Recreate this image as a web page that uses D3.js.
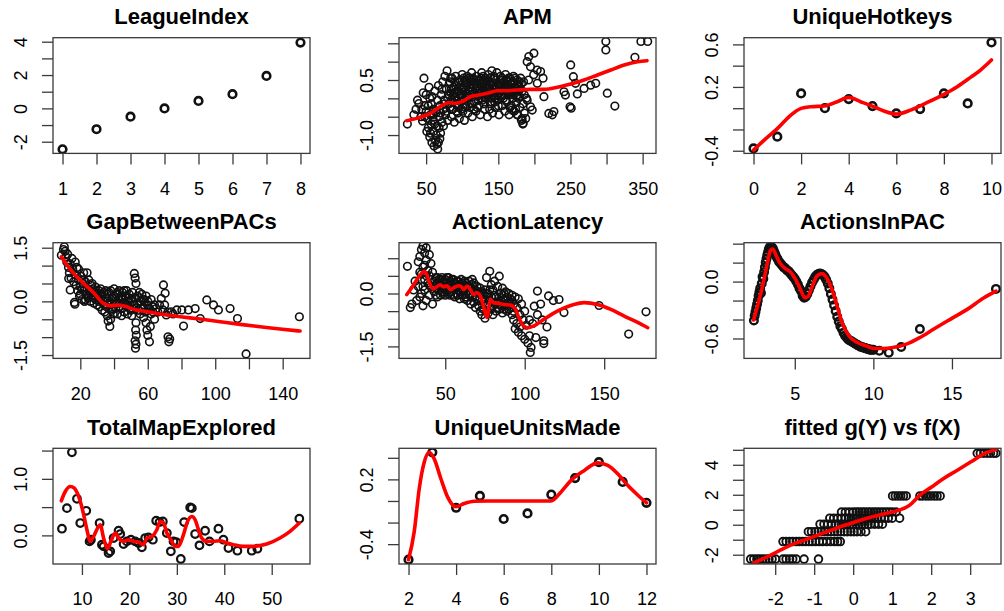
<!DOCTYPE html>
<html>
<head>
<meta charset="utf-8">
<script src="https://cdn.jsdelivr.net/npm/d3@7/dist/d3.min.js"></script>
<style>
body { margin: 0; background: #fff; }
text { font-family: "Liberation Sans", Arial, Helvetica, sans-serif; fill: #000; }
</style>
</head>
<body>
<svg id="chart" width="1004" height="611"></svg>
<script>
// ---- data ----
var titles = ["LeagueIndex", "APM", "UniqueHotkeys", "GapBetweenPACs", "ActionLatency",
	"ActionsInPAC", "TotalMapExplored", "UniqueUnitsMade", "fitted g(Y) vs f(X)"];

var leaguePts = [[1,-2.45],[2,-1.25],[3,-0.5],[4,0.0],[5,0.45],[6,0.85],[7,1.95],[8,3.95]];

var apmPts = [[24,-0.7],[33,-0.45],[36,-0.3],[38,-0.05],[40,-0.14],[43,-0.5],[45,-0.62],[47,0.55],[48,-0.2],[50,-0.35],[50,0.1],
	[52,-0.55],[53,-0.8],[54,0.3],[55,-1.05],[56,-0.45],[57,-0.15],[58,-1.2],[58,0.05],[60,-0.9],[60,-0.6],[61,-1.3],[62,0.2],
	[63,-0.35],[64,-1.0],[65,-0.75],[66,-1.38],[67,-1.2],[67,0.35],[68,-0.5],[69,-0.2],[70,-0.95],[71,0.1],[72,-0.65],[73,0.45],
	[74,-0.3],[75,-0.05],[76,0.6],[77,-0.45],[78,0.25],[79,0.75],[80,-0.6],[80,0.0],[82,0.4],[83,-0.25],[84,0.15],[85,-0.5],
	[86,0.55],[87,-0.1],[88,0.3],[89,-0.65],[90,0.05],[91,0.6],[92,-0.35],[93,0.2],[94,-0.15],[95,0.45],[96,-0.55],[97,0.1],
	[98,0.35],[99,-0.3],[100,0.65],[101,-0.05],[102,0.25],[103,-0.6],[104,0.5],[105,-0.2],[106,0.15],[107,0.4],[108,-0.4],
	[109,0.0],[110,0.55],[111,-0.25],[112,0.3],[113,0.7],[114,-0.5],[115,0.1],[116,0.45],[117,-0.1],[118,0.25],[119,-0.35],
	[120,0.6],[121,0.05],[122,0.35],[123,-0.2],[124,0.5],[125,-0.45],[126,0.15],[127,0.7],[128,-0.05],[129,0.4],[130,0.25],
	[131,-0.3],[132,0.55],[133,0.0],[134,0.3],[135,-0.5],[136,0.65],[137,0.1],[138,0.45],[139,-0.15],[140,0.2],[141,0.75],
	[142,-0.4],[143,0.35],[144,0.05],[145,0.55],[146,-0.25],[147,0.25],[148,0.7],[149,-0.05],[150,0.4],[151,-0.45],[152,0.15],
	[153,0.6],[154,0.3],[155,-0.2],[156,0.5],[157,0.0],[158,0.2],[159,-0.35],[160,0.65],[161,0.35],[162,-0.1],[163,0.45],
	[164,0.1],[165,-0.45],[166,0.55],[167,0.25],[168,-0.2],[169,0.4],[170,0.0],[171,0.6],[172,-0.35],[173,0.3],[174,0.15],
	[175,-0.1],[176,0.5],[177,-0.45],[178,0.35],[179,0.05],[180,-0.25],[181,0.55],[182,-0.6],[183,0.2],[184,-0.7],[185,0.45],
	[186,-0.4],[188,-0.55],[189,0.0],
	[81,0.1],[83,0.45],[85,0.25],[87,-0.3],[89,0.15],[91,0.35],[93,-0.05],[95,0.2],[97,0.5],[99,0.1],[101,-0.35],[103,0.3],
	[105,0.05],[107,0.6],[109,0.2],[111,0.45],[113,-0.15],[115,0.35],[117,0.15],[119,0.5],[121,-0.25],[123,0.2],[125,0.4],
	[127,0.0],[129,0.6],[131,0.15],[133,0.45],[135,0.1],[137,0.3],[139,0.55],[141,-0.1],[143,0.15],[145,0.3],[147,0.5],
	[149,0.1],[151,0.35],[153,0.2],[155,0.55],[157,0.3],[159,0.1],[161,0.5],[163,0.25],[165,0.15],[167,0.4],[169,0.2],
	[171,0.3],[173,0.55],[175,0.25],[177,0.1],[179,0.45],[60,-0.3],[62,-0.7],[64,-0.4],[66,-0.05],[68,-0.8],[70,-0.4],
	[72,0.25],[74,-0.75],[76,-0.15],[78,-0.35],[53,-0.2],[55,0.0],[57,-0.7],[59,-0.45],[44,-0.3],[46,0.15],[48,-0.5],
	[51,-0.9],[63,-1.15],[65,-1.25],[69,-1.1],[56,-0.95],
	[82,-0.15],[84,0.55],[86,-0.3],[88,0.1],[90,0.45],[92,0.15],[94,-0.4],[96,0.3],[98,-0.1],[100,0.25],[102,0.55],
	[104,-0.25],[106,0.35],[108,0.05],[110,-0.15],[112,0.5],[114,0.2],[116,-0.3],[118,0.45],[120,0.1],[122,-0.05],
	[124,0.25],[126,0.55],[128,0.3],[130,-0.15],[132,0.1],[134,0.5],[136,0.2],[138,-0.3],[140,0.4],[142,0.1],[144,0.6],
	[146,0.0],[148,0.35],[150,-0.2],[152,0.5],[154,0.05],[156,0.25],[158,0.45],[160,-0.05],[162,0.3],[164,0.55],
	[166,-0.25],[168,0.1],[170,0.45],[172,0.2],[174,-0.3],[176,0.35],[178,0.0],[180,0.25],[182,0.4],[184,-0.15],[186,0.1],
	[85,-0.05],[95,-0.25],[105,0.45],[115,0.55],[125,0.15],[135,0.35],[145,-0.1],[155,0.1],[165,0.3],[175,0.05],[100,0.0],
	[110,0.3],[120,0.3],[130,0.45],[140,0.0],[150,0.2],[160,0.4],[170,0.15],
	[169,-0.32],[176,-0.45],[183,-0.55],[184.4,-0.68],[194.6,-0.23],[197,-0.32],[190,-0.05],[192,0.5],[199,0.64],[204,0.41],
	[190,1.0],[192.3,1.14],[199.3,1.23],[194.6,0.86],[203.9,0.77],[208.6,0.73],[212,0.55],
	[213.2,0.045],[220,-0.41],[224.8,-0.45],[227,-0.36],[241,0.18],[243,0.09],[250.3,0.91],[254,0.59],[249.4,-0.23],
	[251,-0.27],[257,0.41],[259.5,0.12],[268.8,0.27],[278,0.36],[285,0.41],[301,0.14],[299,1.55],[299,1.32],[311.5,-0.21],
	[339.3,1.12],[347.6,1.55],[357,1.55]];
var apmFit = [[23.1,-0.609],[37,-0.545],[55.6,-0.409],[69.5,-0.227],[81.1,-0.118],[90.3,-0.136],[99.6,-0.091],[111.2,0.045],
	[122.8,0.091],[134.4,0.136],[148.3,0.209],[162.2,0.209],[176.1,0.227],[194.6,0.245],[213.2,0.245],[231.7,0.3],
	[250.3,0.391],[268.8,0.5],[287.4,0.636],[305.9,0.773],[324.5,0.909],[343,1.0],[356,1.027]];

var hotkeyPts = [[0,-0.378],[1,-0.268],[2,0.139],[3,0.0],[4,0.086],[5,0.02],[6,-0.049],[7,-0.008],[8,0.139],[9,0.045],[10,0.619]];
var hotkeyFit = [[0,-0.394],[0.45,-0.3],[1.01,-0.19],[1.57,-0.065],[2.0,-0.002],[2.41,0.014],[2.97,0.02],[3.52,0.061],
	[3.99,0.102],[4.5,0.061],[4.99,0.02],[5.48,-0.027],[6.0,-0.055],[6.6,-0.018],[7.16,0.039],[8.0,0.13],[8.56,0.202],
	[9.12,0.29],[9.54,0.359],[10,0.453]];

var gapPts = [[8.75,1.29],[10,1.45],[10.5,1.53],[11,1.4],[11.5,1.25],[12,1.1],[12.5,1.32],[13,0.95],[13.1,0.64],[13.5,0.8],
	[14,0.32],[14,1.05],[14.5,0.65],[15,1.2],[15.5,0.9],[16,0.55],[16.5,-0.03],[16.8,-0.08],[17,0.75],[17.5,0.45],[18,0.95],
	[18.5,0.3],[19,0.6],[19.5,0.15],[20,0.4],[20.5,0.7],[21,0.05],[21.5,0.5],[22,0.3],[22.5,0.0],[23,0.55],[23.5,0.2],
	[24,0.8],[24.5,0.1],[25,0.6],[25.5,0.3],[26,0.0],[26.5,0.45],[27,0.15],[27.5,0.35],[28,-0.05],[28.5,0.25],[29,0.05],
	[29.5,0.3],[30,-0.1],[30.5,0.15],[31,0.3],[31.5,-0.15],[32,0.05],[32.5,0.2],[33,-0.25],[33.5,0.0],[34,0.25],[34.5,-0.3],
	[35,0.1],[35.5,-0.15],[36,0.2],[36.5,-0.55],[37,-0.05],[37.5,-0.7],[38,0.3],[38.5,-0.25],[39,0.1],[39.5,-0.35],[40,0.35],
	[40.5,0.0],[41,-0.2],[41.5,0.2],[42,-0.35],[42.5,0.05],[43,0.3],[43.5,-0.15],[44,0.1],[44.5,-0.4],[45,0.25],[45.5,-0.05],
	[46,-0.3],[46.5,0.15],[47,-0.1],[47.5,0.3],[48,-0.35],[48.5,0.0],[49,0.2],[49.5,-0.2],[50,0.05],[50.5,-0.4],[51,0.25],
	[51.5,-0.1],[52,0.78],[52.5,0.65],[53,0.5],[53,-0.6],[52.8,-0.8],[53.2,-0.95],[52.5,-1.1],[53,-1.2],[52.7,-1.31],
	[54,0.15],[54.5,-0.25],[55,0.1],[55.5,-0.35],[56,0.0],[56.5,0.2],[57,-0.2],[57.5,-0.45],[58,0.05],[58.5,-0.3],[59,-0.6],
	[59.5,-0.8],[60,-0.1],[60,-0.95],[61,-1.13],[61.5,-0.7],[62,-0.35],[63,-0.15],[64,-0.5],[66,-0.3],[68,0.08],[69,-0.24],
	[69.3,0.46],[70.3,0.23],[71,-0.38],[72,-0.99],[72.5,-1.13],[73,-1.05],[74,-0.29],[77.2,-0.24],[80.2,-0.24],[81.2,-0.69],
	[84.1,-0.24],[88.1,-0.2],[91.1,-0.48],[95,0.04],[99,-0.1],[101.9,-0.24],[108.8,-0.2],[113.2,-0.48],[118.3,-1.47],
	[149.9,-0.43],
	[20,0.2],[21,0.35],[22,0.6],[23,0.05],[24,0.35],[25,0.15],[26,0.25],[27,0.5],[28,0.1],[29,0.4],[30,0.2],[31,0.0],
	[32,0.35],[33,0.15],[34,-0.1],[35,0.3],[36,0.0],[37,0.25],[38,-0.1],[39,-0.2],[40,0.15],[41,0.1],[42,0.25],[43,-0.05],
	[44,-0.2],[45,0.05],[46,0.3],[47,0.15],[48,-0.15],[49,0.1],[50,-0.25],[51,0.0],[52,0.1],[53,-0.2],[54,-0.05],[55,0.25],
	[56,-0.2],[57,0.05],[58,-0.1],[59,0.15],[60,0.0],[61,-0.2],[62,0.05],[63,-0.3],[64,-0.1],[65,-0.2],[67,-0.1],[70,-0.1],
	[72,-0.3],[75,-0.35],[36,-0.4],[38,-0.5],[22,0.8],[19,0.9],[17,1.1]];
var gapFit = [[8.75,1.248],[12.1,1.015],[16.05,0.782],[22,0.503],[27.9,0.242],[33.8,-0.056],[37.8,-0.122],[42.7,-0.103],
	[47.6,-0.15],[51.6,-0.224],[59.5,-0.289],[67.4,-0.355],[79.2,-0.429],[91.05,-0.494],[102.9,-0.569],[114.7,-0.643],
	[126.6,-0.709],[138.4,-0.774],[150.3,-0.83]];

var latencyPts = [[26.2,0.77],[28,-0.4],[29,-0.3],[30,0.1],[31,0.35],[32,-0.2],[33,0.9],[33,0.2],[34,1.05],[34,-0.1],
	[35,1.25],[35,0.55],[35,0.0],[36,1.35],[36,0.75],[36,-0.35],[37,1.15],[37,0.4],[37,0.1],[38,1.3],[38,0.95],[38,-0.2],
	[39,0.65],[39,0.3],[40,1.1],[40,0.5],[40,-0.05],[41,0.85],[41,0.2],[42,0.6],[42,-0.3],[43,0.35],[43,0.05],[44,0.45],
	[44,0.15],[45,0.3],[45,-0.1],[46,0.4],[46,0.1],[47,0.25],[47,-0.05],[48,0.45],[48,0.2],[49,0.35],[49,0.0],[50,0.4],
	[50,0.15],[51,0.3],[51,0.05],[52,0.45],[52,0.2],[53,0.35],[53,-0.05],[54,0.25],[54,0.05],[55,0.4],[55,0.15],[56,0.3],
	[56,-0.1],[57,0.2],[57,0.0],[58,0.35],[58,0.1],[59,0.25],[59,-0.15],[60,0.4],[60,0.05],[61,0.3],[61,-0.05],[62,0.15],
	[62,-0.15],[63,0.3],[63,0.0],[64,0.2],[64,-0.2],[65,0.35],[65,-0.05],[66,0.15],[66,-0.3],[67,0.25],[67,-0.1],[68,0.3],
	[68,-0.25],[69,0.1],[69,-0.4],[70,0.2],[70,-0.15],[71,-0.35],[71,0.05],[72,-0.5],[72,0.15],[73,-0.2],[73,-0.6],[74,0.0],
	[74,-0.45],[75,-0.7],[75,0.1],[76,-0.3],[76,0.45],[77,-0.55],[77,0.0],[78,0.63],[78,-0.2],[79,-0.45],[79,0.25],[80,-0.6],
	[80,0.1],[81,-0.3],[81,0.35],[82,-0.1],[82,-0.5],[83,0.2],[83,-0.25],[84,0.49],[84,-0.45],[85,0.0],[85,-0.35],[86,-0.55],
	[86,0.15],[87,-0.2],[87,-0.45],[88,0.05],[88,-0.3],[89,-0.5],[89,-0.1],[90,-0.25],[90,0.0],[91,-0.4],[91,-0.15],
	[92,-0.6],[92,-0.05],[93,-0.3],[93,-0.75],[94,-1.0],[94,-0.1],[95,-0.85],[95,-0.4],[96,-1.1],[96,-0.15],[97,-0.6],
	[97,-0.95],[98,-1.2],[98,-0.3],[99,-0.75],[100,-1.3],[100,-0.5],[101,-0.9],[102,-1.4],[103,-1.2],[103,-0.75],[104,-1.53],
	[103.5,-1.67],[105,-0.85],[106,-0.36],[107,-1.25],[108,0.07],[108,-0.6],[110,-0.3],[111,-0.75],[112,-1.34],[112,-1.42],
	[114,-0.95],[115,-0.07],[118,-0.2],[121.6,-0.17],[124.7,-0.54],[146.8,-0.34],[165.4,-1.15],[176.3,-0.52],
	[43,0.2],[44,-0.05],[45,0.45],[46,0.2],[47,0.4],[48,0.05],[49,0.2],[50,-0.05],[51,0.45],[52,0.0],[53,0.15],[54,0.4],
	[55,-0.05],[56,0.15],[57,0.35],[58,-0.05],[59,0.1],[60,0.25],[61,0.15],[62,0.35],[63,-0.1],[64,0.05],[65,0.2],[66,0.0],
	[67,0.4],[68,0.1],[69,-0.1],[70,0.05],[71,-0.2],[72,0.0],[73,0.05],[74,-0.25],[75,-0.15],[76,0.0],[77,-0.3],[78,0.1],
	[79,-0.1],[80,-0.35],[81,-0.05],[82,-0.25],[83,-0.4],[84,-0.1],[85,-0.2],[86,-0.35],[87,0.0],[88,-0.15],[89,-0.35],
	[90,-0.45],[91,-0.3],[92,-0.2],[93,-0.5],[36,0.2],[38,0.5],[40,0.25],[34,0.6],[37,0.8]];
var latencyFit = [[25.8,-0.03],[28.9,0.16],[32.1,0.39],[35.3,0.58],[36.9,0.63],[38.4,0.53],[40.5,0.25],[42.6,0.13],
	[44.7,0.19],[46.8,0.25],[48.9,0.19],[51.1,0.22],[53.2,0.11],[56.3,0.19],[58.4,0.22],[60.5,0.18],[61.6,0.11],[63.7,0.21],
	[65.8,0.11],[67.9,-0.03],[70,0.02],[72.5,-0.12],[74.6,-0.45],[76.3,-0.68],[78.4,-0.17],[80.5,-0.26],[83.7,-0.28],
	[86.8,-0.31],[91.1,-0.33],[94.2,-0.45],[96.3,-0.68],[98.4,-0.87],[101.6,-0.97],[105.8,-0.92],[112.1,-0.73],[120.5,-0.5],
	[128.9,-0.34],[137.4,-0.26],[145.8,-0.31],[154.2,-0.45],[162.6,-0.64],[171.1,-0.82],[177.4,-0.97]];

var pacPts = [[2.4,-0.41],[2.45,-0.36],[2.5,-0.32],[2.55,-0.28],[2.6,-0.24],[2.65,-0.2],[2.7,-0.15],[2.75,-0.11],[2.8,-0.07],
	[2.85,-0.12],[2.9,-0.02],[2.95,0.05],[3.0,0.03],[3.05,0.1],[3.1,0.15],[3.15,0.2],[3.2,0.24],[3.25,0.28],[3.3,0.31],
	[3.35,0.34],[3.4,0.36],[3.45,0.37],[3.5,0.37],[3.55,0.36],[3.6,0.35],[3.65,0.33],[3.7,0.31],[3.75,0.29],[3.8,0.27],
	[3.9,0.24],[4.0,0.21],[4.1,0.19],[4.2,0.17],[4.3,0.15],[4.4,0.14],[4.5,0.12],[4.6,0.11],[4.7,0.09],[4.8,0.07],[4.9,0.05],
	[5.0,0.03],[5.1,0.0],[5.2,-0.03],[5.3,-0.07],[5.4,-0.1],[5.5,-0.15],[5.6,-0.17],[5.7,-0.16],[5.8,-0.13],[5.9,-0.09],
	[6.0,-0.05],[6.1,-0.01],[6.2,0.02],[6.3,0.05],[6.4,0.07],[6.5,0.08],[6.6,0.085],[6.7,0.08],[6.8,0.07],[6.9,0.05],
	[7.0,0.02],[7.1,-0.02],[7.2,-0.07],[7.3,-0.13],[7.4,-0.19],[7.5,-0.25],[7.6,-0.31],[7.7,-0.37],[7.8,-0.42],[7.9,-0.47],
	[8.0,-0.5],[8.1,-0.54],[8.2,-0.57],[8.3,-0.59],[8.4,-0.61],[8.5,-0.62],[8.6,-0.63],[8.7,-0.64],[8.8,-0.65],[8.9,-0.66],
	[9.0,-0.67],[9.1,-0.68],[9.2,-0.69],[9.3,-0.69],[9.4,-0.7],[9.5,-0.7],[9.6,-0.71],[9.7,-0.71],[9.8,-0.72],[9.9,-0.72],
	[10.0,-0.72],[10.38,-0.73],[10.98,-0.75],[11.77,-0.69],[12.96,-0.5],[17.8,-0.077]];
var pacFit = [[2.38,-0.405],[2.63,-0.258],[2.85,-0.119],[3.06,0.038],[3.28,0.213],[3.45,0.328],[3.6,0.342],[3.82,0.272],
	[4.03,0.202],[4.35,0.143],[4.68,0.108],[5.0,0.038],[5.32,-0.066],[5.65,-0.171],[5.86,-0.154],[6.08,-0.066],[6.4,0.056],
	[6.72,0.084],[7.04,0.038],[7.37,-0.084],[7.69,-0.258],[8.01,-0.433],[8.44,-0.572],[8.98,-0.642],[9.52,-0.677],
	[10.05,-0.705],[10.59,-0.705],[11.24,-0.695],[12.1,-0.66],[12.96,-0.59],[13.82,-0.503],[14.89,-0.398],[15.97,-0.293],
	[17.04,-0.171],[17.8,-0.101]];

var mapPts = [[5.79,0.118],[6.84,0.482],[7.89,1.47],[8.95,0.647],[9.65,0.218],[10.91,0.435],[11.61,-0.106],[11.89,-0.076],
	[13.72,0.218],[14.21,-0.165],[14.56,-0.194],[15.61,-0.312],[15.96,-0.282],[16.67,-0.047],[17.72,0.082],[18.07,0.024],
	[18.77,-0.153],[19.47,-0.106],[20.32,-0.076],[21.23,-0.106],[21.93,-0.135],[22.63,-0.212],[23.33,-0.047],[24.04,-0.035],
	[24.95,-0.076],[25.65,0.259],[26.35,0.235],[27.05,0.247],[27.89,0.041],[28.74,-0.282],[29.3,-0.106],[29.86,-0.118],
	[30.84,-0.418],[31.54,0.235],[32.81,0.494],[33.16,0.482],[33.86,0.024],[34.77,-0.176],[35.96,0.082],[36.88,-0.106],
	[38.77,0.118],[39.82,-0.076],[40.88,-0.224],[42.77,-0.271],[45.79,-0.271],[46.98,-0.235],[55.82,0.294]];
var mapFit = [[5.65,0.612],[6.49,0.776],[7.54,0.865],[8.39,0.835],[9.3,0.688],[10.21,0.424],[11.05,0.1],[11.75,-0.106],
	[12.46,-0.018],[13.3,0.129],[13.86,0.188],[14.56,-0.047],[15.4,-0.235],[16.1,-0.106],[17.02,0.041],[17.72,-0.047],
	[18.77,-0.106],[19.82,-0.076],[20.88,-0.106],[21.93,-0.118],[22.98,-0.165],[23.68,-0.047],[24.74,-0.018],[25.79,0.1],
	[26.49,0.247],[27.19,0.218],[27.89,0.041],[28.74,-0.076],[29.65,-0.194],[30.35,-0.194],[31.4,0.012],[32.25,0.247],
	[33.16,0.335],[33.86,0.276],[34.56,0.1],[35.26,-0.047],[36.32,-0.106],[37.72,-0.106],[39.12,-0.094],[40.53,-0.135],
	[41.93,-0.165],[44.04,-0.194],[46.14,-0.194],[48.95,-0.153],[51.75,-0.047],[53.86,0.071],[55.82,0.218]];

var unitsPts = [[2,-0.544],[3,0.451],[4,-0.063],[5,0.047],[6,-0.167],[7,-0.115],[8,0.059],[9,0.212],[10,0.359],[11,0.176],[12,-0.017]];
var unitsFit = [[2,-0.544],[2.24,-0.284],[2.45,0.114],[2.66,0.359],[2.87,0.451],[3.08,0.39],[3.36,0.206],[3.64,0.038],
	[3.99,-0.054],[4.34,-0.023],[4.76,-0.002],[5.32,0],[6.03,0],[6.87,0],[7.57,0],[7.99,0],[8.41,0.084],[8.83,0.191],
	[9.39,0.283],[9.95,0.353],[10.37,0.329],[10.79,0.252],[11.21,0.145],[11.64,0.053],[12,-0.017]];

// rows of the last panel: f(X) values at each g(Y) level
var fitRowY = [-2.29, -1.12, -0.46, 0.04, 0.44, 0.85, 1.92, 4.77];
var fitRowX = [
	[-2.63,-2.55,-2.47,-2.4,-2.32,-2.24,-2.16,-2.08,-1.99,-1.8,-1.72,-1.63,-1.55,-1.46,-1.26,-0.89],
	[-1.8,-1.72,-1.63,-1.55,-1.46,-1.38,-1.3,-1.22,-1.13,-1.05,-0.96,-0.87,-0.78,-0.68,-0.58,-0.48,-0.4,-0.33],
	[-1.15,-1.07,-0.98,-0.9,-0.82,-0.73,-0.65,-0.57,-0.48,-0.4,-0.32,-0.23,-0.15,-0.06,0.02,0.1,0.2,0.32],
	[-0.85,-0.75,-0.65,-0.55,-0.45,-0.38,-0.3,-0.22,-0.15,-0.07,0.0,0.08,0.15,0.22,0.3,0.38,0.45,0.55,0.65,0.75],
	[-0.6,-0.5,-0.4,-0.3,-0.2,-0.12,-0.05,0.03,0.1,0.18,0.25,0.32,0.4,0.48,0.55,0.63,0.72,0.8,0.9,1.0,1.19],
	[-0.3,-0.2,-0.1,0.0,0.08,0.15,0.23,0.3,0.38,0.45,0.53,0.6,0.68,0.76,0.84,0.92,1.0,1.1],
	[1.01,1.08,1.15,1.22,1.29,1.36,1.71,1.78,1.86,1.93,2.0,2.08,2.15,2.23],
	[3.18,3.26,3.35,3.44,3.52,3.6,3.66]];
var fitLine = [[-2.56,-2.56],[-2.28,-2.23],[-1.93,-1.78],[-1.59,-1.34],[-1.24,-1.01],[-0.89,-0.68],[-0.55,-0.35],
	[-0.2,-0.02],[0.15,0.27],[0.49,0.53],[0.84,0.75],[1.19,0.98],[1.45,1.31],[1.71,1.97],[2.01,2.52],[2.31,3.07],
	[2.66,3.62],[3.01,4.18],[3.35,4.73],[3.66,5.02]];

// axis limits and ticks, panel by panel
var xDomains = [[0.72,8.28],[12.4,368.5],[-0.4,10.4],[3.8,156.2],[20.9,182.6],[1.77,18.12],[3.9,58.07],[1.6,12.4],[-2.8,3.79]];
var yDomains = [[-2.7,4.24],[-1.5,1.653],[-0.425,0.663],[-1.594,1.64],[-1.84,1.44],[-0.81,0.41],[-0.506,1.54],[-0.584,0.488],[-2.62,5.1]];
var xTicks = [[1,2,3,4,5,6,7,8],[50,100,150,200,250,300,350],[0,2,4,6,8,10],[20,40,60,80,100,120,140],[50,100,150],
	[5,10,15],[10,20,30,40,50],[2,4,6,8,10,12],[-2,-1,0,1,2,3]];
var xLabels = [[1,2,3,4,5,6,7,8],[50,150,250,350],[0,2,4,6,8,10],[20,60,100,140],[50,100,150],
	[5,10,15],[10,20,30,40,50],[2,4,6,8,10,12],[-2,-1,0,1,2,3]];
var yTicks = [[-2,-1,0,1,2,3,4],[-1,-0.5,0,0.5,1,1.5],[-0.4,-0.2,0,0.2,0.4,0.6],[-1.5,-1,-0.5,0,0.5,1,1.5],
	[-1.5,-1,-0.5,0,0.5,1],[-0.6,-0.4,-0.2,0,0.2,0.4],[0,0.5,1,1.5],[-0.4,-0.2,0,0.2,0.4],[-2,-1,0,1,2,3,4,5]];
var yLabels = [[-2,0,2,4],[-1,0.5],[-0.4,0.2,0.6],[-1.5,0,1.5],[-1.5,0],[-0.6,0],[0,1],[-0.4,0.2],[-2,0,2,4]];
var yDecimals = [0,1,1,1,1,1,1,1,0];

// ---- layout ----
var colLeft = [53, 399, 744], rowTop = [37.7, 242.7, 448.3];
var boxW = 257, boxH = 115.7;
var ptStroke = [2.6, 1.6, 2.6, 1.6, 1.6, 2.4, 2.2, 2.6, 1.9];

var fitPts = [];
fitRowY.forEach(function(yv, r) {
	fitRowX[r].forEach(function(xv) { fitPts.push([xv, yv]); });
});
var allPts = [leaguePts, apmPts, hotkeyPts, gapPts, latencyPts, pacPts, mapPts, unitsPts, fitPts];
var allFits = [null, apmFit, hotkeyFit, gapFit, latencyFit, pacFit, mapFit, unitsFit, fitLine];

var svg = d3.select("#chart");
svg.append("rect").attr("width", 1004).attr("height", 611).attr("fill", "#fff");

titles.forEach(function(title, i) {
	var left = colLeft[i % 3], top = rowTop[Math.floor(i / 3)];
	var x = d3.scaleLinear().domain(xDomains[i]).range([left, left + boxW]);
	var y = d3.scaleLinear().domain(yDomains[i]).range([top + boxH, top]);
	var g = svg.append("g");

	g.append("clipPath").attr("id", "clip" + i)
		.append("rect").attr("x", left).attr("y", top).attr("width", boxW).attr("height", boxH);

	var plot = g.append("g").attr("clip-path", "url(#clip" + i + ")");
	plot.selectAll("circle")
		.data(allPts[i])
		.enter()
		.append("circle")
		.attr("cx", function(d) { return x(d[0]); })
		.attr("cy", function(d) { return y(d[1]); })
		.attr("r", 3.8)
		.attr("fill", "none")
		.attr("stroke", "#111")
		.attr("stroke-width", ptStroke[i]);

	if (allFits[i]) {
		plot.append("path")
			.attr("d", d3.line()
				.x(function(d) { return x(d[0]); })
				.y(function(d) { return y(d[1]); })
				.curve(d3.curveMonotoneX)(allFits[i]))
			.attr("fill", "none")
			.attr("stroke", "#ff0000")
			.attr("stroke-width", 3.6)
			.attr("stroke-linejoin", "round")
			.attr("stroke-linecap", "round");
	}

	g.append("rect")
		.attr("x", left).attr("y", top).attr("width", boxW).attr("height", boxH)
		.attr("fill", "none").attr("stroke", "#3a3a3a").attr("stroke-width", 1.3);

	var xl = xLabels[i];
	var xAxis = d3.axisBottom(x).tickValues(xTicks[i]).tickSize(11).tickPadding(17.5).tickSizeOuter(0)
		.tickFormat(function(d) { return xl.indexOf(d) >= 0 ? String(d) : ""; });
	var gx = g.append("g").attr("transform", "translate(0," + (top + boxH) + ")").call(xAxis);

	var yl = yLabels[i], dec = yDecimals[i];
	var yAxis = d3.axisLeft(y).tickValues(yTicks[i]).tickSize(11).tickSizeOuter(0)
		.tickFormat(function(d) { return yl.indexOf(d) >= 0 ? d.toFixed(dec) : ""; });
	var gy = g.append("g").attr("transform", "translate(" + left + ",0)").call(yAxis);
	gy.selectAll(".tick text")
		.attr("x", null).attr("dy", null)
		.attr("text-anchor", "middle")
		.attr("transform", "translate(-26.5,0) rotate(-90)");

	[gx, gy].forEach(function(ax) {
		ax.select(".domain").remove();
		ax.selectAll(".tick line").attr("stroke", "#3a3a3a").attr("stroke-width", 1.3);
		ax.selectAll(".tick text").attr("font-size", 18).attr("fill", "#222")
			.attr("font-family", "'Liberation Sans', Arial, sans-serif");
	});

	g.append("text")
		.attr("x", left + boxW / 2).attr("y", top - 13.5)
		.attr("text-anchor", "middle")
		.attr("font-size", 22).attr("font-weight", "bold")
		.attr("fill", "#1a1a1a")
		.text(title);
});
</script>
</body>
</html>
